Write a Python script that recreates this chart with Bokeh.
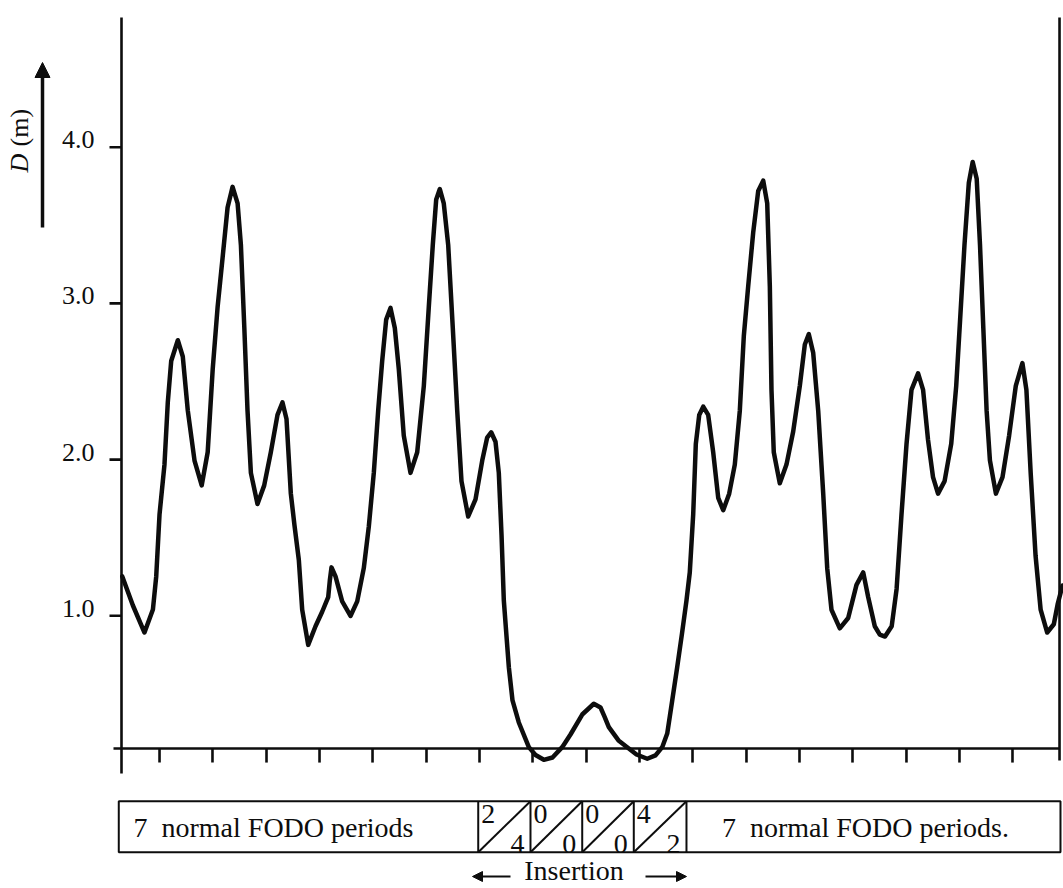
from bokeh.plotting import figure
from bokeh.models import Range1d, Arrow, NormalHead
from bokeh.core.properties import value
from bokeh.embed import file_html
from bokeh.resources import INLINE

# ---------------- data ----------------
# position along the lattice (in units of one tick interval) and dispersion D (m)
s_vals = [
    0.015, 0.214, 0.431, 0.589, 0.651, 0.713, 0.806, 0.868, 0.932, 1.056, 1.149, 1.243,
    1.369, 1.504, 1.616, 1.710, 1.802, 1.896, 1.989, 2.083, 2.177, 2.239, 2.303, 2.363,
    2.426, 2.550, 2.676, 2.800, 2.925, 3.019, 3.094, 3.175, 3.244,
    3.325, 3.388, 3.501, 3.638, 3.763, 3.876, 3.906, 3.938, 4.013, 4.138, 4.294, 4.420,
    4.543, 4.637, 4.731, 4.813, 4.888, 4.963, 5.044, 5.125, 5.200, 5.293, 5.419, 5.545,
    5.669, 5.762, 5.837, 5.901, 5.969, 6.043, 6.126, 6.212, 6.295, 6.375, 6.501, 6.638,
    6.764, 6.857, 6.932, 7.013, 7.075, 7.126, 7.169, 7.263, 7.332, 7.450, 7.638, 7.763,
    7.919, 8.082, 8.264, 8.419, 8.639, 8.856, 8.982, 9.057, 9.138, 9.319, 9.482, 9.657,
    9.858, 10.013, 10.139, 10.233, 10.327, 10.420, 10.510, 10.594, 10.656, 10.720, 10.769,
    10.833, 10.908,
    11.001, 11.095, 11.189, 11.283, 11.395, 11.500, 11.594, 11.669, 11.751, 11.845, 11.939,
    12.033, 12.108, 12.157, 12.188, 12.231, 12.344, 12.469, 12.595, 12.719, 12.813, 12.888,
    12.970, 13.064, 13.158, 13.233, 13.313, 13.469, 13.626, 13.782, 13.908, 14.002, 14.125,
    14.219,
    14.317, 14.442, 14.534, 14.626, 14.720, 14.813, 14.937, 15.031, 15.123, 15.217, 15.311,
    15.434, 15.558, 15.652, 15.725, 15.807, 15.888, 15.961, 16.036, 16.098, 16.160, 16.222,
    16.284, 16.396, 16.520, 16.644, 16.769, 16.893, 16.968, 17.048, 17.140, 17.235, 17.358,
    17.482, 17.557, 17.645,
]
d_vals = [
    1.252, 1.066, 0.893, 1.040, 1.252, 1.649, 1.969, 2.366, 2.631, 2.764, 2.660, 2.314,
    1.994, 1.835, 2.047, 2.578, 2.976, 3.294, 3.614, 3.746, 3.640, 3.374, 2.844, 2.314,
    1.915, 1.716, 1.835, 2.047, 2.286, 2.366, 2.260, 1.783, 1.578,
    1.358, 1.040, 0.814, 0.933, 1.026, 1.119, 1.225, 1.310, 1.252, 1.092, 0.999, 1.092,
    1.305, 1.570, 1.915, 2.313, 2.631, 2.896, 2.971, 2.843, 2.578, 2.154, 1.915, 2.047,
    2.472, 2.976, 3.374, 3.665, 3.732, 3.640, 3.374, 2.843, 2.313, 1.862, 1.636, 1.745,
    1.994, 2.141, 2.175, 2.114, 1.915, 1.517, 1.098, 0.671, 0.458, 0.317, 0.159, 0.109,
    0.078, 0.093, 0.159, 0.240, 0.368, 0.437, 0.413, 0.355, 0.287, 0.202, 0.159, 0.112,
    0.085, 0.106, 0.159, 0.246, 0.458, 0.671, 0.887, 1.098, 1.278, 1.649, 2.100,
    2.286, 2.339,
    2.286, 2.047, 1.755, 1.676, 1.782, 1.968, 2.313, 2.791, 3.109, 3.454, 3.719,
    3.786, 3.640, 3.109, 2.446, 2.047, 1.848, 1.968, 2.180, 2.472, 2.737, 2.803,
    2.684, 2.313, 1.782, 1.305, 1.039, 0.920, 0.986, 1.198, 1.278, 1.119, 0.933,
    0.880,
    0.867, 0.933, 1.172, 1.649, 2.100, 2.446, 2.552, 2.446, 2.127, 1.888, 1.782,
    1.862, 2.100, 2.472, 2.896, 3.374, 3.772, 3.905, 3.798, 3.374, 2.843, 2.313,
    1.995, 1.782, 1.888, 2.154, 2.472, 2.618, 2.446, 1.915, 1.384, 1.039, 0.893,
    0.946, 1.079, 1.194,
]

y_tick_vals = [1.0, 2.0, 3.0, 4.0]
y_tick_labels = ["1.0", "2.0", "3.0", "4.0"]
x_tick_pos = [0.713, 1.706, 2.719, 3.713, 4.707, 5.719, 6.713, 7.707, 8.719,
              9.713, 10.707, 11.719, 12.713, 13.707, 14.719, 15.713, 16.707]
baseline_D = 0.15          # level of the horizontal axis line
s_end = 17.589             # right end of the axis

# lattice diagram
box_left, box_right = -0.051, 17.607
cell_edges = [6.689, 7.669, 8.639, 9.606, 10.594]
cell_top = ["2", "0", "0", "4"]
cell_bottom = ["4", "0", "0", "2"]
section_labels = ["7\u00a0 normal FODO periods", "7\u00a0 normal FODO periods."]
section_centers = [2.85, 13.95]

# ---------------- layout ----------------
W, H = 1063, 888
PX_S = 53.33      # pixels per s unit
PX_D = 156.2      # pixels per metre of D
X0 = 121.0        # canvas x of s = 0
Y0 = 771.5        # canvas y of D = 0
YB = 851.7        # canvas y of diagram bottom (diag = 0)
PX_B = 51.0       # pixels per diagram unit
TDY = 8.5         # text baseline correction (px)

x_range = Range1d((0 - X0) / PX_S, (W - X0) / PX_S)
y_range = Range1d((Y0 - H) / PX_D, Y0 / PX_D)

p = figure(width=W, height=H, x_range=x_range, y_range=y_range,
           x_axis_type=None, y_axis_type=None, toolbar_location=None,
           output_backend="svg", min_border=0, outline_line_color=None)
p.extra_y_ranges = {"diag": Range1d((YB - H) / PX_B, YB / PX_B)}
p.background_fill_color = "white"
p.border_fill_color = "white"

INK = "#0d0d0d"
FONT = value("Liberation Serif")


def diag_y(py, k=1.0):
    return (YB - (py - TDY * k)) / PX_B


# axes
p.line([0, 0], [(Y0 - 17) / PX_D, (Y0 - 773) / PX_D], line_color=INK, line_width=2.6)
p.segment(x0=[-12 / PX_S] * 4, x1=[0] * 4, y0=y_tick_vals, y1=y_tick_vals,
          line_color=INK, line_width=2.6)
p.text(x=[-27 / PX_S] * 4, y=[v + (TDY - 1) / PX_D for v in y_tick_vals],
       text=y_tick_labels, text_font=FONT, text_font_size=value("26px"),
       text_align="right", text_baseline="alphabetic", text_color=INK)
p.line([-8 / PX_S, s_end], [baseline_D, baseline_D], line_color=INK, line_width=2.6)
p.segment(x0=x_tick_pos, x1=x_tick_pos, y0=[baseline_D] * len(x_tick_pos),
          y1=[baseline_D - 14 / PX_D] * len(x_tick_pos), line_color=INK, line_width=2.6)
p.line([s_end, s_end], [(Y0 - 17) / PX_D, baseline_D - 12 / PX_D], line_color=INK,
       line_width=2.6)

# D (m) label with arrow
xl = (19 - X0) / PX_S
p.text(x=[xl], y=[(Y0 - 172) / PX_D], text=["D"], angle=1.5708, text_font=FONT,
       text_font_style="italic", text_font_size=value("26px"), text_align="left",
       text_baseline="middle", text_color=INK)
p.text(x=[xl], y=[(Y0 - 146) / PX_D], text=["(m)"], angle=1.5708, text_font=FONT,
       text_font_size=value("26px"), text_align="left", text_baseline="middle",
       text_color=INK)
xa = (42 - X0) / PX_S
p.add_layout(Arrow(end=NormalHead(size=15, fill_color=INK, line_color=INK, line_width=1),
                   x_start=xa, y_start=(Y0 - 227) / PX_D, x_end=xa, y_end=(Y0 - 62) / PX_D,
                   line_color=INK, line_width=3.5))

# dispersion curve
p.line(s_vals, d_vals, line_color=INK, line_width=4.5, line_join="round", line_cap="round")

# lattice diagram
p.quad(left=[box_left], right=[box_right], bottom=[0], top=[1], fill_color=None,
       line_color=INK, line_width=2, y_range_name="diag")
p.segment(x0=cell_edges, x1=cell_edges, y0=[0] * 5, y1=[1] * 5, line_color=INK,
          line_width=2, y_range_name="diag")
p.segment(x0=cell_edges[:-1], y0=[0] * 4, x1=cell_edges[1:], y1=[1] * 4,
          line_color=INK, line_width=2, y_range_name="diag")
p.text(x=cell_edges[:-1], y=[diag_y(822, 1.05)] * 4, text=cell_top, x_offset=3,
       text_font=FONT, text_font_size=value("28px"), text_align="left",
       text_baseline="alphabetic", text_color=INK, y_range_name="diag")
p.text(x=cell_edges[1:], y=[diag_y(852, 1.05)] * 4, text=cell_bottom, x_offset=-6,
       text_font=FONT, text_font_size=value("28px"), text_align="right",
       text_baseline="alphabetic", text_color=INK, y_range_name="diag")
p.text(x=section_centers, y=[diag_y(836, 1.05)] * 2, text=section_labels, text_font=FONT,
       text_font_size=value("28px"), text_align="center", text_baseline="alphabetic",
       text_color=INK, y_range_name="diag")

# Insertion label with arrows
yi = (YB - 876) / PX_B
p.text(x=[(573.5 - X0) / PX_S], y=[diag_y(879, 1.05)], text=["Insertion"], text_font=FONT,
       text_font_size=value("28px"), text_align="center", text_baseline="alphabetic",
       text_color=INK, y_range_name="diag")
for xs, xe in [((510 - X0) / PX_S, (472 - X0) / PX_S), ((645 - X0) / PX_S, (686 - X0) / PX_S)]:
    p.add_layout(Arrow(end=NormalHead(size=10, fill_color=INK, line_color=INK, line_width=1),
                       x_start=xs, y_start=yi, x_end=xe, y_end=yi, line_color=INK,
                       line_width=1.8, y_range_name="diag"))

open("out.html", "w").write(file_html(p, INLINE))
